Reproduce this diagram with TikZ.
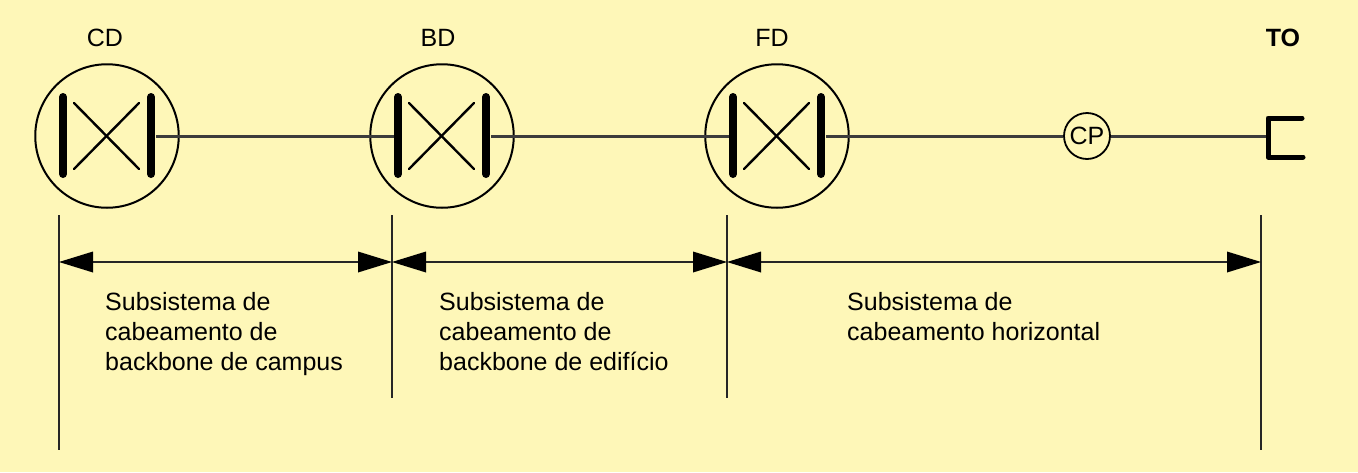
\documentclass[tikz,border=0pt]{standalone}
\usepackage{fontspec}
\setmainfont{Liberation Sans}
\usetikzlibrary{arrows.meta}
\definecolor{bgc}{HTML}{FEF7B8}
\definecolor{linec}{HTML}{3C3C3C}
\tikzset{
  x=1pt,y=-1pt,
  lab/.style={inner sep=0pt,font=\fontsize{25}{30}\selectfont,text=black,anchor=base},
  desc/.style={inner sep=0pt,font=\fontsize{25}{30}\selectfont,text=black,anchor=north west,align=left},
  dist/.style={circle,draw=black,line width=2pt,minimum size=143.5pt,inner sep=0pt},
  cpnode/.style={circle,draw=black,line width=1.8pt,minimum size=46pt,inner sep=0pt,font=\fontsize{25}{25}\selectfont},
  link/.style={draw=linec,line width=3pt},
  bar/.style={draw=black,line width=8pt,line cap=round},
  cross/.style={draw=black,line width=2.4pt,line cap=round},
  tick/.style={draw=black!85,line width=1.8pt},
  span/.style={draw=black!85,line width=2.3pt,{Triangle[length=34pt,width=21pt,fill=black,line width=0pt]}-{Triangle[length=34pt,width=21pt,fill=black,line width=0pt]}},
  toport/.style={draw=black,line width=5pt,line cap=round,line join=round},
}
\newcommand{\distsym}[1]{%
  \draw[bar] ([xshift=-44pt,yshift=-38pt]#1.center) -- ([xshift=-44pt,yshift=39pt]#1.center);
  \draw[bar] ([xshift=44pt,yshift=-38pt]#1.center) -- ([xshift=44pt,yshift=39pt]#1.center);
  \draw[cross] ([xshift=-33pt,yshift=-33pt]#1.center) -- ([xshift=32pt,yshift=33pt]#1.center);
  \draw[cross] ([xshift=-33pt,yshift=33pt]#1.center) -- ([xshift=32pt,yshift=-33pt]#1.center);
}
\begin{document}
\begin{tikzpicture}
\useasboundingbox[fill=bgc] (0,0) rectangle (1358,472);
\node[dist] (cd) at (107,136) {};
\node[dist] (bd) at (442,136) {};
\node[dist] (fd) at (777,136) {};
\node[cpnode] (cp) at (1087,136) {CP};
\coordinate (cdout) at (156,136);
\coordinate (bdin) at (398,136);
\coordinate (bdout) at (491,136);
\coordinate (fdin) at (733,136);
\coordinate (fdout) at (826,136);
\coordinate (toin) at (1268,136);
\coordinate (totop) at (1302,118);
\coordinate (totopc) at (1268,118);
\coordinate (tobotc) at (1268,157);
\coordinate (tobot) at (1303,157);
\draw[link] (cdout) -- (bdin);
\draw[link] (bdout) -- (fdin);
\draw[link] (fdout) -- (cp);
\draw[link] (cp) -- (toin);
\distsym{cd}
\distsym{bd}
\distsym{fd}
\draw[toport] (totop) -- (totopc) -- (tobotc) -- (tobot);
\node[lab] (lcd) at (105,46) {CD};
\node[lab] (lbd) at (438,46) {BD};
\node[lab] (lfd) at (772,46) {FD};
\node[lab] (lto) at (1283,46) {\textbf{TO}};
\coordinate (a1) at (59,215); \coordinate (a2) at (59,450);
\coordinate (b1) at (392,215); \coordinate (b2) at (392,398);
\coordinate (c1) at (727,215); \coordinate (c2) at (727,398);
\coordinate (d1) at (1261,215); \coordinate (d2) at (1261,450);
\draw[tick] (a1) -- (a2);
\draw[tick] (b1) -- (b2);
\draw[tick] (c1) -- (c2);
\draw[tick] (d1) -- (d2);
\coordinate (s0) at (59,262);
\coordinate (s1) at (392,262);
\coordinate (s2) at (727,262);
\coordinate (s3) at (1261,262);
\draw[span] (s0) -- (s1);
\draw[span] (s1) -- (s2);
\draw[span] (s2) -- (s3);
\node[desc] (t1) at (105,292) {Subsistema de\\[0pt]cabeamento de\\[0pt]backbone de campus};
\node[desc] (t2) at (439,292) {Subsistema de\\[0pt]cabeamento de\\[0pt]backbone de edifício};
\node[desc] (t3) at (847,292) {Subsistema de\\[0pt]cabeamento horizontal};
\end{tikzpicture}
\end{document}
